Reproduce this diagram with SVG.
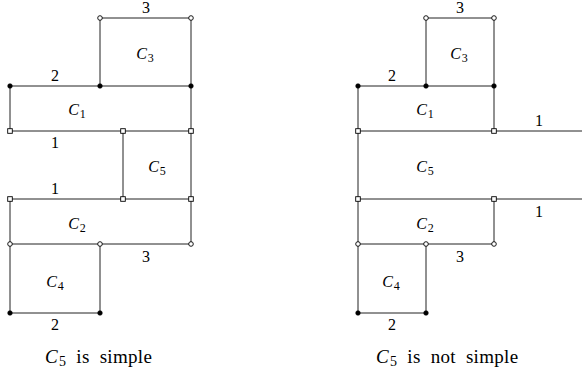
<svg xmlns="http://www.w3.org/2000/svg" width="582" height="374" viewBox="0 0 582 374">
<style>
.ln{stroke:#222;stroke-width:1;fill:none}
.fd{fill:#000;stroke:#000;stroke-width:0.6}
.od{fill:#fff;stroke:#000;stroke-width:0.9}
.sq{fill:#fff;stroke:#000;stroke-width:0.9}
text{font-family:"Liberation Serif","Times New Roman",serif;font-size:16px;fill:#000;text-anchor:middle}
.it{font-style:italic}
.sb{font-size:12px;font-style:normal}
.cap{font-size:19px;text-anchor:start;word-spacing:5px;letter-spacing:0.3px}
.cap .sb{font-size:14px}
</style>
<defs>
<circle id="f" r="2.3" class="fd"/>
<circle id="o" r="2.3" class="od"/>
<rect id="s" x="-2.3" y="-2.3" width="4.6" height="4.6" class="sq"/>
</defs>
<g id="connectors">
<path class="ln" d="M100,86V18H191V244H10M10,131V86H191M10,131H191M123,131V199M10,199H191M10,199V313H100V244"/>
<path class="ln" d="M426,86V18H494V131M358,86H494M358,86V313H426V244M358,131H582M358,199H582M494,199V244H358"/>
</g>
<g id="left">
<g id="l-C3"><text x="145" y="59"><tspan class="it">C</tspan><tspan class="sb" dx="1" dy="3">3</tspan></text></g>
<g id="l-C1"><text x="77" y="115"><tspan class="it">C</tspan><tspan class="sb" dx="1" dy="3">1</tspan></text></g>
<g id="l-C5"><text x="157" y="172"><tspan class="it">C</tspan><tspan class="sb" dx="1" dy="3">5</tspan></text></g>
<g id="l-C2"><text x="77" y="229"><tspan class="it">C</tspan><tspan class="sb" dx="1" dy="3">2</tspan></text></g>
<g id="l-C4"><text x="55" y="287"><tspan class="it">C</tspan><tspan class="sb" dx="1" dy="3">4</tspan></text></g>
<text x="146" y="13">3</text>
<text x="55" y="81">2</text>
<text x="55" y="148">1</text>
<text x="55" y="194">1</text>
<text x="146" y="262">3</text>
<text x="55" y="330">2</text>
<use href="#f" x="10" y="86"/><use href="#f" x="100" y="86"/><use href="#f" x="191" y="86"/>
<use href="#f" x="10" y="313"/><use href="#f" x="100" y="313"/>
<use href="#o" x="100" y="18"/><use href="#o" x="191" y="18"/>
<use href="#o" x="10" y="244"/><use href="#o" x="100" y="244"/><use href="#o" x="191" y="244"/>
<use href="#s" x="10" y="131"/><use href="#s" x="123" y="131"/><use href="#s" x="191" y="131"/>
<use href="#s" x="10" y="199"/><use href="#s" x="123" y="199"/><use href="#s" x="191" y="199"/>
<text class="cap" x="45" y="363"><tspan class="it">C</tspan><tspan class="sb" dx="1" dy="3">5</tspan><tspan dy="-3"> is simple</tspan></text>
</g>
<g id="right">
<g id="r-C3"><text x="459" y="59"><tspan class="it">C</tspan><tspan class="sb" dx="1" dy="3">3</tspan></text></g>
<g id="r-C1"><text x="425" y="115"><tspan class="it">C</tspan><tspan class="sb" dx="1" dy="3">1</tspan></text></g>
<g id="r-C5"><text x="425" y="172"><tspan class="it">C</tspan><tspan class="sb" dx="1" dy="3">5</tspan></text></g>
<g id="r-C2"><text x="425" y="229"><tspan class="it">C</tspan><tspan class="sb" dx="1" dy="3">2</tspan></text></g>
<g id="r-C4"><text x="391" y="287"><tspan class="it">C</tspan><tspan class="sb" dx="1" dy="3">4</tspan></text></g>
<text x="460" y="13">3</text>
<text x="392" y="81">2</text>
<text x="539" y="126">1</text>
<text x="539" y="217">1</text>
<text x="460" y="262">3</text>
<text x="392" y="330">2</text>
<use href="#f" x="358" y="86"/><use href="#f" x="426" y="86"/><use href="#f" x="494" y="86"/>
<use href="#f" x="358" y="313"/><use href="#f" x="426" y="313"/>
<use href="#o" x="426" y="18"/><use href="#o" x="494" y="18"/>
<use href="#o" x="358" y="244"/><use href="#o" x="426" y="244"/><use href="#o" x="494" y="244"/>
<use href="#s" x="358" y="131"/><use href="#s" x="494" y="131"/>
<use href="#s" x="358" y="199"/><use href="#s" x="494" y="199"/>
<text class="cap" x="376" y="363"><tspan class="it">C</tspan><tspan class="sb" dx="1" dy="3">5</tspan><tspan dy="-3"> is not simple</tspan></text>
</g>
</svg>
